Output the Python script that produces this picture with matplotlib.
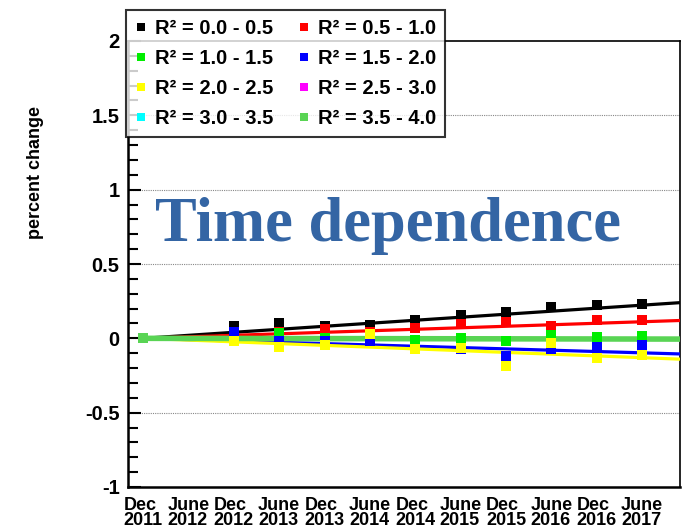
import numpy as np
import matplotlib
matplotlib.use('Agg')
import matplotlib.pyplot as plt
from matplotlib.lines import Line2D
from matplotlib.ticker import MultipleLocator

plt.rcParams['font.family'] = ['Liberation Sans', 'DejaVu Sans']

# months since Dec 2011
months = [0, 12, 18, 24, 30, 36, 42, 48, 54, 60, 66]
tick_months = [0, 6, 12, 18, 24, 30, 36, 42, 48, 54, 60, 66]
tick_labels = ['Dec\n2011', 'June\n2012', 'Dec\n2012', 'June\n2013', 'Dec\n2013', 'June\n2014',
               'Dec\n2014', 'June\n2015', 'Dec\n2015', 'June\n2016', 'Dec\n2016', 'June\n2017']

r2_bins = ['0.0 - 0.5', '0.5 - 1.0', '1.0 - 1.5', '1.5 - 2.0',
           '2.0 - 2.5', '2.5 - 3.0', '3.0 - 3.5', '3.5 - 4.0']
colors = ['#000000', '#ff0000', '#00ee00', '#0000ff',
          '#ffff00', '#ff00ff', '#00ffff', '#59d454']

# percent change per R^2 bin
vals_00_05 = [0.0, 0.08, 0.10, 0.08, 0.09, 0.125, 0.16, 0.18, 0.21, 0.225, 0.23]
vals_05_10 = [0.0, 0.045, 0.045, 0.065, 0.04, 0.07, 0.095, 0.11, 0.08, 0.125, 0.125]
vals_10_15 = [0.0, 0.03, 0.035, 0.0, 0.0, -0.01, 0.0, -0.015, 0.025, 0.012, 0.017]
vals_15_20 = [0.0, 0.04, -0.02, -0.02, -0.02, -0.07, -0.075, -0.12, -0.075, -0.055, -0.045]
vals_20_25 = [0.0, -0.02, -0.055, -0.045, 0.03, -0.075, -0.065, -0.185, -0.03, -0.13, -0.11]
vals_25_30 = [0.0]
vals_30_35 = [0.0]
vals_35_40 = [0.0]
series = [vals_00_05, vals_05_10, vals_10_15, vals_15_20,
          vals_20_25, vals_25_30, vals_30_35, vals_35_40]

# linear fits: value at Dec 2011 and at the right edge of the axis
fit_x = [0, 71]
fit_end = [0.24, 0.12, -0.003, -0.105, -0.14, -0.005, -0.005, -0.005]

fig = plt.figure(figsize=(6.83, 5.30), dpi=100)
ax = fig.add_axes([128 / 683, 1 - 487 / 530, 552 / 683, 446 / 530])

for i, (vals, c) in enumerate(zip(series, colors)):
    lw = 4.0 if i == 7 else 2.3
    ax.plot(fit_x, [0.0, fit_end[i]], color=c, lw=lw, zorder=3 + i * 0.1)
    ax.plot(months[:len(vals)], vals, 's', color=c, ms=7, mew=0, zorder=4 + i * 0.1)

ax.set_xlim(-2, 71)
ax.set_ylim(-1, 2)
ax.yaxis.set_minor_locator(MultipleLocator(0.1))
ax.set_yticks([-1, -0.5, 0, 0.5, 1, 1.5, 2])
ax.set_yticklabels(['-1', '-0.5', '0', '0.5', '1', '1.5', '2'], fontsize=14.5, fontweight='bold')
ax.tick_params(axis='y', which='major', direction='in', length=9, width=1.5, pad=6)
ax.tick_params(axis='y', which='minor', direction='in', length=7, width=1.5)
ax.set_xticks(tick_months)
ax.set_xticklabels(tick_labels, fontsize=13, fontweight='bold', linespacing=0.9)
for t in ax.get_xticklabels():
    t.set_multialignment('left')
ax.tick_params(axis='x', length=0, pad=7)

for y in [-0.5, 0, 0.5, 1, 1.5]:
    ax.axhline(y, color='#888888', lw=0.8, ls=(0, (1, 1)), zorder=1)

for side in ['left', 'bottom']:
    ax.spines[side].set_linewidth(1.8)
for side in ['top', 'right']:
    ax.spines[side].set_linewidth(1.2)

ax.set_ylabel('percent change', fontsize=13, fontweight='bold')
ax.yaxis.set_label_coords(-0.152, 0.705)

# legend filled row by row: two entries per row
order = [0, 2, 4, 6, 1, 3, 5, 7]
handles = [Line2D([], [], marker='s', ls='none', color=colors[k], ms=6, mew=0) for k in order]
labels = ['R\u00b2 = ' + r2_bins[k] for k in order]
leg = fig.legend(handles, labels, loc='upper left', ncol=2,
                 bbox_to_anchor=(126 / 683, 1 - 10 / 530), bbox_transform=fig.transFigure,
                 prop={'size': 14.5, 'weight': 'bold'}, frameon=True, fancybox=False,
                 handlelength=0.6, handletextpad=0.4, columnspacing=1.2,
                 labelspacing=0.55, borderpad=0.45, borderaxespad=0)
leg.get_frame().set_edgecolor('black')
leg.get_frame().set_linewidth(1.5)
leg.set_zorder(10)

fig.text(388 / 683, 1 - 226 / 530, 'Time dependence', color='#3465a4', fontsize=45,
         fontweight='bold', family='Liberation Serif', ha='center', va='center', zorder=11)

fig.savefig('out.png', dpi=100)
